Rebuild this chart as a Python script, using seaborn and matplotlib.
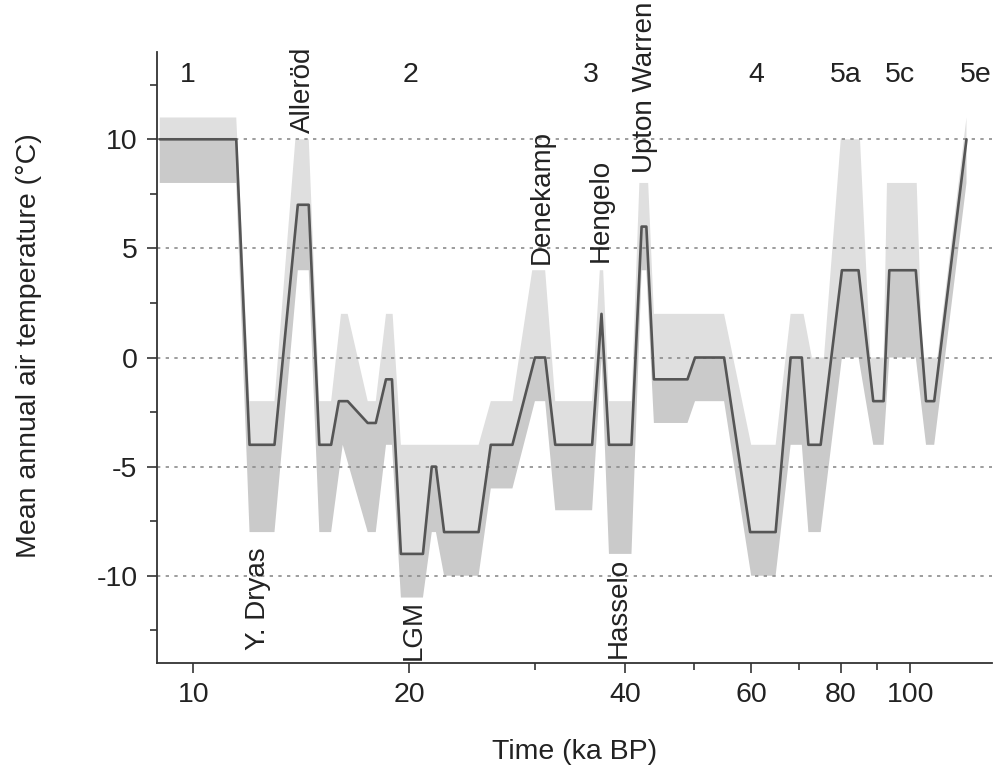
import numpy as np
import matplotlib
matplotlib.use("Agg")
import matplotlib.pyplot as plt
import matplotlib.ticker as mticker
import seaborn as sns

# --- data (age in ka BP, temperature in degC) ---
mean_age = [8.98, 11.48, 11.98, 12.98, 13.99, 14.49, 14.99, 15.57, 15.96, 16.42,
            17.51, 17.97, 18.57, 18.93, 19.48, 20.91, 21.51, 21.80, 22.38, 25.0,
            26.0, 27.87, 29.96, 30.96, 31.98, 36.0, 37.1, 38.0, 40.85, 42.2,
            42.85, 43.9, 48.9, 50.1, 55.0, 59.8, 64.9, 68.1, 70.6, 72.1,
            75.0, 80.3, 84.7, 88.8, 91.8, 93.5, 101.8, 105.2, 108.0, 119.8]
mean_temp = [10, 10, -4, -4, 7, 7, -4, -4, -2, -2,
             -3, -3, -1, -1, -9, -9, -5, -5, -8, -8,
             -4, -4, 0, 0, -4, -4, 2, -4, -4, 6,
             6, -1, -1, 0, 0, -8, -8, 0, 0, -4,
             -4, 4, 4, -2, -2, 4, 4, -2, -2, 10]

upper_age = [8.98, 11.48, 11.98, 12.98, 13.88, 14.49, 14.99, 15.57, 16.07, 16.42,
             17.51, 17.97, 18.57, 18.97, 19.48, 25.0, 26.0, 27.87, 29.7, 30.96,
             31.98, 36.0, 36.9, 37.3, 38.0, 40.85, 41.9, 43.1, 43.9, 55.0,
             60.0, 64.9, 68.1, 71.0, 72.9, 75.8, 80.0, 85.1, 88.0, 91.8,
             92.8, 102.1, 104.0, 109.1, 119.8]
upper_temp = [11, 11, -2, -2, 10, 10, -2, -2, 2, 2,
              -2, -2, 2, 2, -4, -4, -2, -2, 4, 4,
              -2, -2, 4, 4, -2, -2, 8, 8, 2, 2,
              -4, -4, 2, 2, 0, 0, 10, 10, 0, 0,
              8, 8, 0, 0, 11]

lower_age = [8.98, 11.48, 11.98, 12.98, 13.99, 14.49, 14.99, 15.57, 16.16, 17.51,
             17.97, 18.57, 18.93, 19.48, 20.91, 21.51, 21.80, 22.38, 25.0, 26.0,
             27.87, 29.96, 30.96, 31.98, 36.0, 37.1, 38.0, 40.85, 42.2, 42.85,
             43.9, 48.9, 50.1, 55.0, 60.0, 64.9, 68.1, 70.6, 72.1, 75.0,
             80.3, 84.7, 88.8, 91.8, 93.5, 101.8, 105.2, 108.0, 119.8]
lower_temp = [8, 8, -8, -8, 4, 4, -8, -8, -4, -8,
              -8, -4, -4, -11, -11, -8, -8, -10, -10, -6,
              -6, -2, -2, -7, -7, 0, -9, -9, 4, 4,
              -3, -3, -2, -2, -10, -10, -4, -4, -8, -8,
              0, 0, -4, -4, 0, 0, -4, -4, 8]

# stage numbers along the top
stage_labels = ["1", "2", "3", "4", "5a", "5c", "5e"]
stage_age = [9.83, 20.1, 35.8, 61.0, 81.2, 96.8, 123.3]

# named events (rotated text), y = where the text starts
event_labels = ["Y. Dryas", "Alleröd", "LGM", "Denekamp", "Hengelo", "Hasselo", "Upton Warren"]
event_age = [12.3, 14.2, 20.3, 30.6, 37.0, 39.2, 42.7]
event_temp = [-13.4, 10.3, -13.85, 4.3, 4.4, -13.75, 8.45]

LIGHT = "#dfdfdf"
DARK = "#cacaca"
LINE = "#555555"

sns.set_style("ticks")
plt.rcParams["font.family"] = ["Liberation Sans", "DejaVu Sans"]
plt.rcParams["axes.unicode_minus"] = False

fig = plt.figure(figsize=(10.05, 7.73), dpi=100)
ax = fig.add_axes([0.1562, 0.1423, 0.8308, 0.7904])
ax.set_xscale("log")

ma, mt = np.array(mean_age), np.array(mean_temp)
# band above the mean (light) and below the mean (darker)
ax.fill(np.r_[upper_age, ma[::-1]], np.r_[upper_temp, mt[::-1]],
        color=LIGHT, lw=0, zorder=1)
ax.fill(np.r_[lower_age, ma[::-1]], np.r_[lower_temp, mt[::-1]],
        color=DARK, lw=0, zorder=1)

for yv in [-10, -5, 0, 5, 10]:
    ax.axhline(yv, color="#8c8c8c", lw=1.2, ls=(0, (2, 3.2)), zorder=2)

sns.lineplot(x=mean_age, y=mean_temp, ax=ax, sort=False, estimator=None,
             color=LINE, lw=1.9, zorder=3)

ax.set_xlim(8.9, 130)
ax.set_ylim(-14, 14)

ax.xaxis.set_major_locator(mticker.FixedLocator([10, 20, 40, 60, 80, 100]))
ax.xaxis.set_major_formatter(mticker.FixedFormatter(["10", "20", "40", "60", "80", "100"]))
ax.xaxis.set_minor_locator(mticker.FixedLocator([30, 50, 70, 90]))
ax.xaxis.set_minor_formatter(mticker.NullFormatter())
ax.yaxis.set_major_locator(mticker.FixedLocator([-10, -5, 0, 5, 10]))
ax.yaxis.set_minor_locator(mticker.FixedLocator([-12.5, -7.5, -2.5, 2.5, 7.5, 12.5]))

ax.tick_params(which="major", length=7, width=1.2, color="#333333",
               labelsize=20.5, pad=7, labelcolor="#222222")
ax.tick_params(which="minor", length=5, width=1.2, color="#333333")

for side in ["top", "right"]:
    ax.spines[side].set_visible(False)
for side in ["left", "bottom"]:
    ax.spines[side].set_color("#333333")
    ax.spines[side].set_linewidth(1.3)

ax.set_xlabel("Time (ka BP)", fontsize=20.5, color="#222222")
ax.set_ylabel("Mean annual air temperature (°C)", fontsize=20.5, color="#222222")
ax.xaxis.set_label_coords(0.5, -0.125)
ax.yaxis.set_label_coords(-0.138, 0.52)

for lab, xa in zip(stage_labels, stage_age):
    ax.text(xa, 12.93, lab, fontsize=20.5, ha="center", va="center",
            color="#222222", clip_on=False)

for lab, xa, yv in zip(event_labels, event_age, event_temp):
    ax.text(xa, yv, lab, fontsize=20, rotation=90, ha="center", va="bottom",
            color="#222222", clip_on=False, zorder=4)

fig.savefig("out.png", dpi=100)
